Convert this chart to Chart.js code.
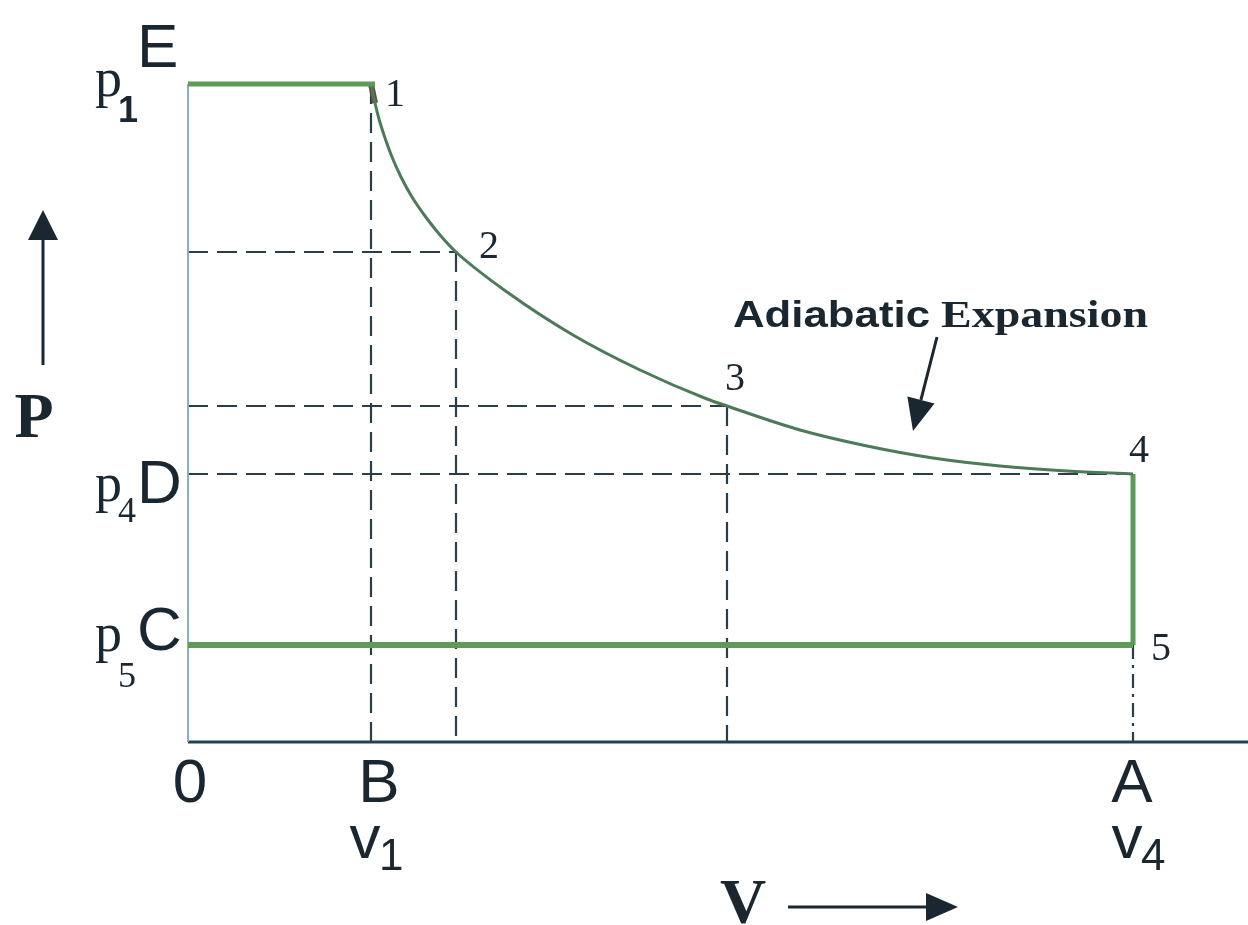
<!DOCTYPE html>
<html>
<head>
<meta charset="utf-8">
<title>Adiabatic Expansion P-V diagram</title>
<script src="https://cdn.jsdelivr.net/npm/chart.js@4/dist/chart.umd.min.js"></script>
<style>
    html, body { margin: 0; padding: 0; background: #ffffff; }
    canvas { display: block; }
</style>
</head>
<body>
<canvas id="pvChart" width="1248" height="925"></canvas>
<script>
/* ============================
   Data (volume / pressure units)
============================ */
const stateLabels = ['1', '2', '3', '4', '5'];
const stateV = [1.83, 2.68, 5.39, 9.45, 9.45];
const stateP = [6.58, 4.90, 3.36, 2.68, 0.97];

// adiabatic curve 1 -> 4
const curveV = [1.83, 1.87, 1.91, 1.97, 2.04, 2.13, 2.24, 2.37, 2.52, 2.68, 3.19, 3.85, 4.52, 5.19, 5.39, 6.12, 6.79, 7.45, 8.12, 8.79, 9.45];
const curveP = [6.58, 6.39, 6.23, 6.04, 5.85, 5.65, 5.45, 5.26, 5.07, 4.90, 4.50, 4.07, 3.72, 3.43, 3.36, 3.12, 2.96, 2.84, 2.76, 2.71, 2.68];

// axis labels
const pressureSubs = ['1', '4', '5'];
const pressureLetters = ['E', 'D', 'C'];
const pressureValues = [stateP[0], stateP[3], stateP[4]];
const volumeLetters = ['0', 'B', 'A'];
const volumeSubs = ['', '1', '4'];
const volumeValues = [0, stateV[0], stateV[3]];

const axisMaxV = 10.6;
const axisMaxP = 7;

/* ============================
   Colours
============================ */
const green = '#5f9a58';
const curveGreen = '#4b7b58';
const dashColor = '#2a3e4a';
const inkColor = '#1b2730';

const pts = (xs, ys) => xs.map((x, i) => ({ x: x, y: ys[i] }));

function lineSet(data, color, width, extra) {
    return Object.assign({
        data: data,
        showLine: true,
        borderColor: color,
        borderWidth: width,
        pointRadius: 0,
        fill: false,
        clip: false
    }, extra || {});
}

const dash = { borderDash: [20, 9], order: 2 };

const datasets = [
    // cycle lines
    lineSet([{ x: 0, y: stateP[0] }, { x: stateV[0] + 0.04, y: stateP[0] }], green, 5, { order: 0 }),
    lineSet(pts(curveV, curveP), curveGreen, 3, { order: 0, cubicInterpolationMode: 'monotone' }),
    lineSet([{ x: stateV[3], y: stateP[3] }, { x: stateV[4], y: stateP[4] }], green, 5, { order: 0 }),
    lineSet([{ x: 0, y: stateP[4] }, { x: stateV[4], y: stateP[4] }], green, 6, { order: 0 }),
    lineSet([{ x: curveV[0], y: curveP[0] }, { x: curveV[1], y: curveP[1] }], '#6e4b3a', 6, { order: 0 }),

    // axes
    lineSet([{ x: 0, y: stateP[0] }, { x: 0, y: 0 }], '#86b0c8', 2, { order: 1 }),
    lineSet([{ x: 0, y: 0 }, { x: axisMaxV, y: 0 }], '#25404e', 3, { order: 1 }),

    // dashed guides, vertical
    lineSet([{ x: stateV[0], y: stateP[0] }, { x: stateV[0], y: 0 }], dashColor, 2.2, dash),
    lineSet([{ x: stateV[1], y: stateP[1] }, { x: stateV[1], y: 0 }], dashColor, 2.2, dash),
    lineSet([{ x: stateV[2], y: stateP[2] }, { x: stateV[2], y: 0 }], dashColor, 2.2, dash),
    lineSet([{ x: stateV[4], y: stateP[4] }, { x: stateV[4], y: 0 }], dashColor, 2.2, { borderDash: [14, 6, 3, 6], order: 2 }),

    // dashed guides, horizontal
    lineSet([{ x: 0, y: stateP[1] }, { x: stateV[1], y: stateP[1] }], dashColor, 2.2, dash),
    lineSet([{ x: 0, y: stateP[2] }, { x: stateV[2], y: stateP[2] }], dashColor, 2.2, dash),
    lineSet([{ x: 0, y: stateP[3] }, { x: stateV[3], y: stateP[3] }], dashColor, 2.2, dash)
];

/* ============================
   Text + arrows plugin
============================ */
function arrow(ctx, x1, y1, x2, y2, head, halfWidth) {
    const ang = Math.atan2(y2 - y1, x2 - x1);
    const bx = x2 - head * Math.cos(ang);
    const by = y2 - head * Math.sin(ang);
    ctx.beginPath();
    ctx.moveTo(x1, y1);
    ctx.lineTo(bx, by);
    ctx.stroke();
    ctx.beginPath();
    ctx.moveTo(x2, y2);
    ctx.lineTo(bx + halfWidth * Math.sin(ang), by - halfWidth * Math.cos(ang));
    ctx.lineTo(bx - halfWidth * Math.sin(ang), by + halfWidth * Math.cos(ang));
    ctx.closePath();
    ctx.fill();
}

function fitText(ctx, text, x, y, width) {
    const w = ctx.measureText(text).width;
    ctx.save();
    ctx.translate(x, y);
    ctx.scale(width / w, 1);
    ctx.fillText(text, 0, 0);
    ctx.restore();
}

const labelPlugin = {
    id: 'pvLabels',
    afterDraw(chart) {
        const ctx = chart.ctx;
        const xs = chart.scales.x;
        const ys = chart.scales.y;
        const left = chart.chartArea.left;

        ctx.save();
        ctx.fillStyle = inkColor;
        ctx.strokeStyle = inkColor;
        ctx.textBaseline = 'alphabetic';

        // pressure labels: p_n + letter
        const pBase = [12, 27, 6];
        const subBase = [38, 48, 42];
        const letterBase = [-17, 29, 5];
        pressureValues.forEach((p, i) => {
            const y = ys.getPixelForValue(p);
            ctx.textAlign = 'left';
            ctx.font = '54px "Liberation Serif"';
            ctx.fillText('p', left - 93, y + pBase[i]);
            ctx.font = (i === 0 ? 'bold 36px "Liberation Sans"' : '36px "Liberation Serif"');
            ctx.fillText(pressureSubs[i], left - 70, y + subBase[i]);
            ctx.font = '62px "Liberation Sans"';
            ctx.fillText(pressureLetters[i], left - 51, y + letterBase[i]);
        });

        // volume labels
        const axisY = ys.getPixelForValue(0);
        const letterShift = [2, 8, -1];
        volumeValues.forEach((v, i) => {
            const x = xs.getPixelForValue(v);
            ctx.textAlign = 'center';
            ctx.font = '62px "Liberation Sans"';
            ctx.fillText(volumeLetters[i], x + letterShift[i], axisY + 60);
            if (volumeSubs[i]) {
                ctx.font = '62px "Liberation Sans"';
                ctx.fillText('v', x - 6, axisY + 116);
                ctx.font = '44px "Liberation Sans"';
                ctx.textAlign = 'left';
                ctx.fillText(volumeSubs[i], x + 8, axisY + 128);
            }
        });

        // state point numbers
        const numDx = [24, 33, 8, 6, 28];
        const numDy = [22, 6, -16, -12, 15];
        ctx.font = '40px "Liberation Serif"';
        ctx.textAlign = 'center';
        stateLabels.forEach((s, i) => {
            const x = xs.getPixelForValue(stateV[i]);
            const y = ys.getPixelForValue(stateP[i]);
            ctx.fillText(s, x + numDx[i], y + numDy[i]);
        });

        // axis titles with arrows
        ctx.textAlign = 'center';
        ctx.font = 'bold 64px "Liberation Serif"';
        ctx.fillText('P', 34, 437);
        ctx.lineWidth = 3;
        arrow(ctx, 43, 365, 43, 210, 30, 15);

        ctx.textAlign = 'left';
        ctx.fillText('V', 720, 923);
        arrow(ctx, 788, 907, 958, 907, 32, 14);

        // annotation
        ctx.font = 'bold 37px "Liberation Sans"';
        fitText(ctx, 'Adiabatic', 733, 327, 197);
        ctx.font = 'bold 37px "Liberation Serif"';
        fitText(ctx, 'Expansion', 941, 327, 207);
        ctx.lineWidth = 3;
        arrow(ctx, 937, 337, 913, 431, 32, 14);

        ctx.restore();
    }
};

/* ============================
   Build chart
============================ */
const pvChartContext = document.getElementById('pvChart').getContext('2d');

new Chart(pvChartContext, {
    type: 'scatter',
    data: { datasets: datasets },
    options: {
        responsive: false,
        animation: false,
        layout: {
            padding: { left: 188, right: 0, top: 42, bottom: 183 }
        },
        scales: {
            x: { type: 'linear', min: 0, max: axisMaxV, display: false },
            y: { type: 'linear', min: 0, max: axisMaxP, display: false }
        },
        plugins: {
            legend: { display: false },
            tooltip: { enabled: false }
        }
    },
    plugins: [labelPlugin]
});
</script>
</body>
</html>
